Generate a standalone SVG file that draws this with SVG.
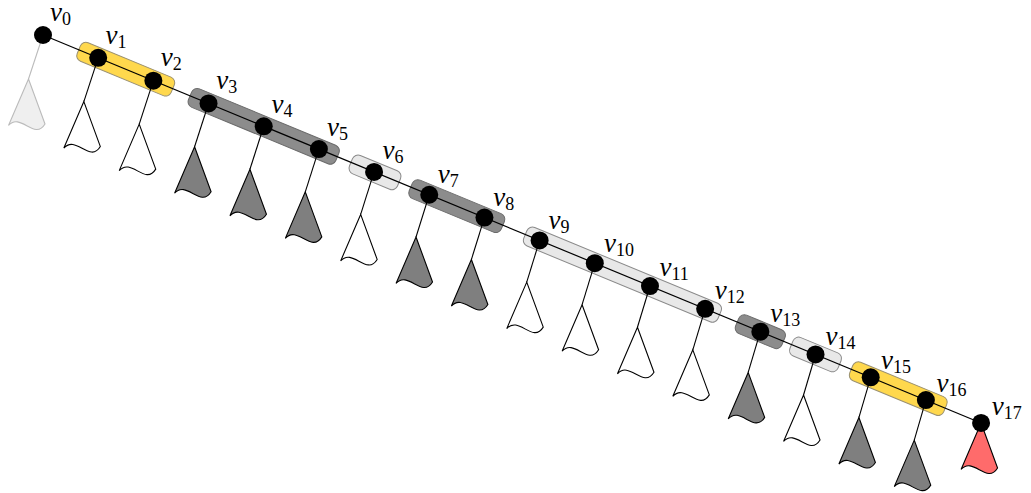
<svg xmlns="http://www.w3.org/2000/svg" xmlns:xlink="http://www.w3.org/1999/xlink" width="1031" height="493" viewBox="0 0 1031 493">
<style>
.bg{fill:#ffffff}
.gy{fill:#ffd84d;stroke:#9a9070;stroke-width:1}
.gd{fill:#8c8c8c;stroke:#6a6a6a;stroke-width:1}
.gl{fill:#e8e8e8;stroke:#8a8a8a;stroke-width:1}
.edge{stroke:#000;stroke-width:1.2;fill:none}
.stem{stroke:#000;stroke-width:1.1}
.stem0{stroke:#bbbbbb;stroke-width:1.1}
.vx{fill:#000}
.fw{fill:#ffffff;stroke:#000;stroke-width:1.1}
.fd{fill:#7f7f7f;stroke:#000;stroke-width:1.1}
.f0{fill:#efefef;stroke:#bbbbbb;stroke-width:1.1}
.fr{fill:#ff6b6b;stroke:#000;stroke-width:1.1}
.lbl{font-family:"Liberation Serif","DejaVu Serif",serif;fill:#000}
.v{font-style:italic;font-size:27px}
.s{font-size:18px}
</style>
<defs>
<path id="fl" d="M0,0 L16.5,45 C6,62 -8,33 -20,46.5 Z"/>
</defs>
<rect class="bg" x="0" y="0" width="1031" height="493"/>
<g id="groups">
<rect class="gy" x="-50.9" y="-10" width="101.7" height="20" rx="6" transform="translate(125.77,69.23) rotate(22.47)"/>
<rect class="gd" x="-79.7" y="-10" width="159.4" height="20" rx="6" transform="translate(263.72,126.28) rotate(22.47)"/>
<rect class="gl" x="-25" y="-10" width="52" height="20" rx="6" transform="translate(374.08,171.92) rotate(22.47)"/>
<rect class="gd" x="-49.9" y="-10" width="99.7" height="20" rx="6" transform="translate(456.85,206.15) rotate(22.47)"/>
<rect class="gl" x="-105" y="-10" width="210.1" height="20" rx="6" transform="translate(622.39,274.61) rotate(22.47)"/>
<rect class="gd" x="-25" y="-10" width="50" height="20" rx="6" transform="translate(760.34,331.66) rotate(22.47)"/>
<rect class="gl" x="-26" y="-10" width="52" height="20" rx="6" transform="translate(815.52,354.48) rotate(22.47)"/>
<rect class="gy" x="-50.9" y="-10" width="101.7" height="20" rx="6" transform="translate(898.29,388.71) rotate(22.47)"/>
</g>
<g id="connectors">
<line class="edge" x1="43" y1="35" x2="981.06" y2="422.94"/>
</g>
<g id="v0"><line class="stem0" x1="43" y1="35" x2="28.5" y2="79"/><use href="#fl" class="f0" x="28.5" y="79"/><circle class="vx" cx="43" cy="35" r="9"/><text class="lbl" x="50" y="21"><tspan class="v">v</tspan><tspan class="s" dy="4">0</tspan></text></g>
<g id="v1"><line class="stem" x1="98.18" y1="57.82" x2="83.86" y2="101.57"/><use href="#fl" class="fw" x="83.86" y="101.57"/><circle class="vx" cx="98.18" cy="57.82" r="9"/><text class="lbl" x="105.4" y="43.5"><tspan class="v">v</tspan><tspan class="s" dy="4">1</tspan></text></g>
<g id="v2"><line class="stem" x1="153.36" y1="80.64" x2="139.22" y2="124.14"/><use href="#fl" class="fw" x="139.22" y="124.14"/><circle class="vx" cx="153.36" cy="80.64" r="9"/><text class="lbl" x="160.8" y="66.1"><tspan class="v">v</tspan><tspan class="s" dy="4">2</tspan></text></g>
<g id="v3"><line class="stem" x1="208.54" y1="103.46" x2="194.58" y2="146.71"/><use href="#fl" class="fd" x="194.58" y="146.71"/><circle class="vx" cx="208.54" cy="103.46" r="9"/><text class="lbl" x="216.2" y="89.3"><tspan class="v">v</tspan><tspan class="s" dy="4">3</tspan></text></g>
<g id="v4"><line class="stem" x1="263.72" y1="126.28" x2="249.94" y2="169.28"/><use href="#fl" class="fd" x="249.94" y="169.28"/><circle class="vx" cx="263.72" cy="126.28" r="9"/><text class="lbl" x="271.6" y="112.6"><tspan class="v">v</tspan><tspan class="s" dy="4">4</tspan></text></g>
<g id="v5"><line class="stem" x1="318.9" y1="149.1" x2="305.3" y2="191.85"/><use href="#fl" class="fd" x="305.3" y="191.85"/><circle class="vx" cx="318.9" cy="149.1" r="9"/><text class="lbl" x="327" y="135.9"><tspan class="v">v</tspan><tspan class="s" dy="4">5</tspan></text></g>
<g id="v6"><line class="stem" x1="374.08" y1="171.92" x2="360.66" y2="214.42"/><use href="#fl" class="fw" x="360.66" y="214.42"/><circle class="vx" cx="374.08" cy="171.92" r="9"/><text class="lbl" x="382.4" y="159.2"><tspan class="v">v</tspan><tspan class="s" dy="4">6</tspan></text></g>
<g id="v7"><line class="stem" x1="429.26" y1="194.74" x2="416.02" y2="236.99"/><use href="#fl" class="fd" x="416.02" y="236.99"/><circle class="vx" cx="429.26" cy="194.74" r="9"/><text class="lbl" x="437.8" y="182.5"><tspan class="v">v</tspan><tspan class="s" dy="4">7</tspan></text></g>
<g id="v8"><line class="stem" x1="484.44" y1="217.56" x2="471.38" y2="259.56"/><use href="#fl" class="fd" x="471.38" y="259.56"/><circle class="vx" cx="484.44" cy="217.56" r="9"/><text class="lbl" x="493.2" y="205.7"><tspan class="v">v</tspan><tspan class="s" dy="4">8</tspan></text></g>
<g id="v9"><line class="stem" x1="539.62" y1="240.38" x2="526.74" y2="282.13"/><use href="#fl" class="fw" x="526.74" y="282.13"/><circle class="vx" cx="539.62" cy="240.38" r="9"/><text class="lbl" x="548.6" y="229"><tspan class="v">v</tspan><tspan class="s" dy="4">9</tspan></text></g>
<g id="v10"><line class="stem" x1="594.8" y1="263.2" x2="582.1" y2="304.7"/><use href="#fl" class="fw" x="582.1" y="304.7"/><circle class="vx" cx="594.8" cy="263.2" r="9"/><text class="lbl" x="604" y="252.3"><tspan class="v">v</tspan><tspan class="s" dy="4">10</tspan></text></g>
<g id="v11"><line class="stem" x1="649.98" y1="286.02" x2="637.46" y2="327.27"/><use href="#fl" class="fw" x="637.46" y="327.27"/><circle class="vx" cx="649.98" cy="286.02" r="9"/><text class="lbl" x="659.4" y="275.6"><tspan class="v">v</tspan><tspan class="s" dy="4">11</tspan></text></g>
<g id="v12"><line class="stem" x1="705.16" y1="308.84" x2="692.82" y2="349.84"/><use href="#fl" class="fw" x="692.82" y="349.84"/><circle class="vx" cx="705.16" cy="308.84" r="9"/><text class="lbl" x="714.8" y="298.9"><tspan class="v">v</tspan><tspan class="s" dy="4">12</tspan></text></g>
<g id="v13"><line class="stem" x1="760.34" y1="331.66" x2="748.18" y2="372.41"/><use href="#fl" class="fd" x="748.18" y="372.41"/><circle class="vx" cx="760.34" cy="331.66" r="9"/><text class="lbl" x="770.2" y="322.1"><tspan class="v">v</tspan><tspan class="s" dy="4">13</tspan></text></g>
<g id="v14"><line class="stem" x1="815.52" y1="354.48" x2="803.54" y2="394.98"/><use href="#fl" class="fw" x="803.54" y="394.98"/><circle class="vx" cx="815.52" cy="354.48" r="9"/><text class="lbl" x="825.6" y="345.4"><tspan class="v">v</tspan><tspan class="s" dy="4">14</tspan></text></g>
<g id="v15"><line class="stem" x1="870.7" y1="377.3" x2="858.9" y2="417.55"/><use href="#fl" class="fd" x="858.9" y="417.55"/><circle class="vx" cx="870.7" cy="377.3" r="9"/><text class="lbl" x="881" y="368.7"><tspan class="v">v</tspan><tspan class="s" dy="4">15</tspan></text></g>
<g id="v16"><line class="stem" x1="925.88" y1="400.12" x2="914.26" y2="440.12"/><use href="#fl" class="fd" x="914.26" y="440.12"/><circle class="vx" cx="925.88" cy="400.12" r="9"/><text class="lbl" x="936.4" y="392"><tspan class="v">v</tspan><tspan class="s" dy="4">16</tspan></text></g>
<g id="v17"><use href="#fl" class="fr" x="981.06" y="422.94"/><circle class="vx" cx="981.06" cy="422.94" r="9"/><text class="lbl" x="991.8" y="415.3"><tspan class="v">v</tspan><tspan class="s" dy="4">17</tspan></text></g>
</svg>
